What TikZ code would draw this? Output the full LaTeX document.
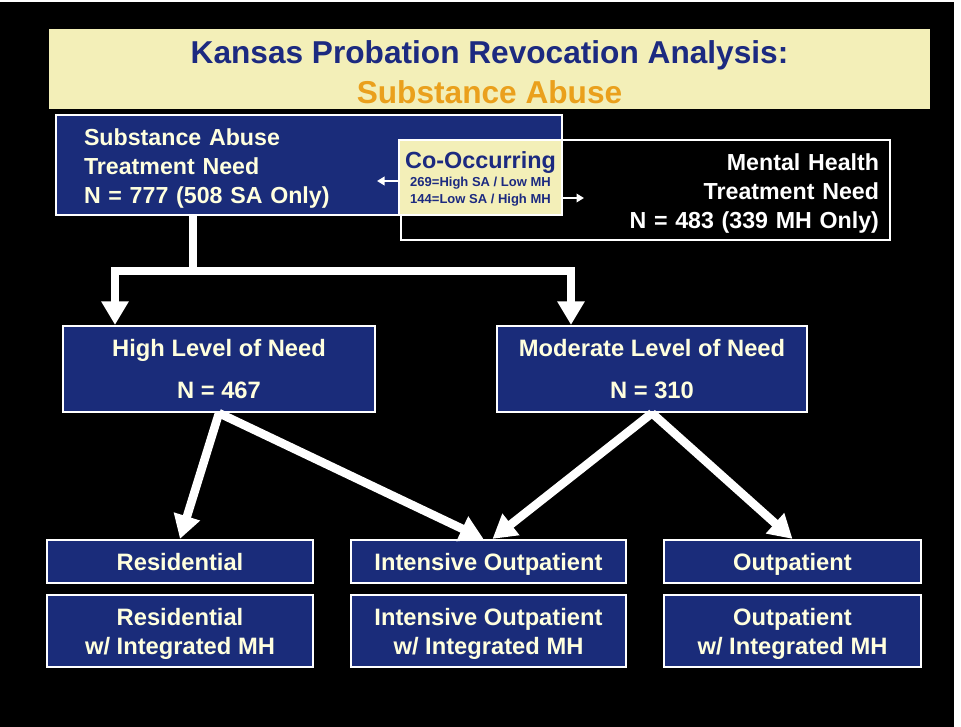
\documentclass[tikz,border=0pt]{standalone}
\usepackage{fontspec}
\setmainfont{Liberation Sans}
\usetikzlibrary{arrows.meta}

\definecolor{navy}{RGB}{26,44,122}
\definecolor{titlenavy}{RGB}{28,42,128}
\definecolor{titleorange}{RGB}{234,160,28}
\definecolor{paleyellow}{RGB}{243,239,184}
\definecolor{cream}{RGB}{255,255,222}

\newcommand{\pxl}{*0.2mm}
\newcommand{\bxfont}{\bfseries\fontsize{13.5}{16.4}\selectfont}
\newcommand{\needfont}{\bfseries\fontsize{13.2}{16.6}\selectfont}
\newcommand{\ttlfont}{\bfseries\fontsize{18}{22.6}\selectfont}
\newcommand{\cofont}{\bfseries\fontsize{13.3}{16}\selectfont}
\newcommand{\smfont}{\bfseries\fontsize{7.4}{9.6}\selectfont}

\begin{document}
\begin{tikzpicture}[x=0.2mm, y=-0.2mm,
  needbox/.style={draw=white, line width=0.45mm, inner sep=0pt, font=\needfont},
  navybox/.style={draw=white, line width=0.45mm, fill=navy, text=cream, inner sep=0pt, align=center, font=\bxfont, text depth=0pt},
  cobox/.style={draw=white, line width=0.3mm, fill=paleyellow, inner sep=0pt},
  banner/.style={fill=paleyellow, text=titlenavy, inner sep=0pt, align=center, font=\ttlfont},
  flow/.style={draw=white, line width=1.7mm, -{Triangle[length=4.7mm, width=5.2mm]}},
  pointer/.style={draw=white, line width=0.4mm, -{Triangle[length=1.5mm, width=1.7mm]}}]

% background
\useasboundingbox (0,0) rectangle (961,727);
\fill[white] (0,0) rectangle (961,727);
\fill[black] (0,2) rectangle (954,727);

% title banner
\node[banner, minimum width=881\pxl, minimum height=80\pxl] (title) at (489.5,69) {\rule{0pt}{16.8pt}Kansas Probation Revocation Analysis:\\\textcolor{titleorange}{Substance Abuse}};

% treatment need: SA box, MH box, co-occurring box on top
\node[needbox, fill=navy, text=cream, minimum width=506\pxl, minimum height=100\pxl, text width=450\pxl, align=left] (sa) at (309,165) {\rule{0pt}{13.8pt}Substance Abuse\\Treatment Need\\N = 777 (508 SA Only)};
\node[needbox, fill=black, text=white, minimum width=489\pxl, minimum height=100\pxl, text width=467\pxl, align=right] (mh) at (645.5,190) {\rule{0pt}{13.4pt}Mental Health\\Treatment Need\\N = 483 (339 MH Only)};
\node[cobox, minimum width=163\pxl, minimum height=75\pxl] (co) at (480.5,177.5) {};
\node[font=\cofont, text=titlenavy, inner sep=0pt] (cotitle) at (480.5,163) {Co-Occurring};
\node[font=\smfont, text=titlenavy, inner sep=0pt, align=center] (conum) at (480.5,192) {269=High SA / Low MH\\144=Low SA / High MH};

% co-occurring counts point into both boxes
\coordinate (saIn) at (377,181);
\coordinate (mhIn) at (584,198);
\draw[pointer] (co.west |- saIn) -- (saIn);
\draw[pointer] (co.east |- mhIn) -- (mhIn);

% level of need
\node[navybox, minimum width=312\pxl, minimum height=86\pxl] (high) at (219,369) {High Level of Need\\[7.4pt]N = 467};
\node[navybox, minimum width=310\pxl, minimum height=86\pxl] (mod) at (652,369) {Moderate Level of Need\\[7.4pt]N = 310};

% split SA box into the two levels
\coordinate (split) at (193,271);
\coordinate (hidrop) at (115,271);
\coordinate (moddrop) at (571,271);
\draw[flow] (sa.south -| split) -- (split) -- (hidrop) -- (hidrop |- high.north);
\draw[flow] (sa.south -| split) -- (split) -- (moddrop) -- (moddrop |- mod.north);

% treatment options
\node[navybox, minimum width=266\pxl, minimum height=43\pxl] (res) at (180,561.5) {Residential};
\node[navybox, minimum width=275\pxl, minimum height=43\pxl] (int) at (488.5,561.5) {Intensive Outpatient};
\node[navybox, minimum width=257\pxl, minimum height=43\pxl] (out) at (792.5,561.5) {Outpatient};

% options with integrated MH
\node[navybox, minimum width=266\pxl, minimum height=72\pxl] (resmh) at (180,631) {Residential\\w/ Integrated MH};
\node[navybox, minimum width=275\pxl, minimum height=72\pxl] (intmh) at (488.5,631) {Intensive Outpatient\\w/ Integrated MH};
\node[navybox, minimum width=257\pxl, minimum height=72\pxl] (outmh) at (792.5,631) {Outpatient\\w/ Integrated MH};

% levels to options
\draw[flow] (high.south) -- (res.north);
\draw[flow] (high.south) -- ([xshift=-5\pxl]int.north);
\draw[flow] (mod.south) -- ([xshift=4\pxl]int.north);
\draw[flow] (mod.south) -- (out.north);

\end{tikzpicture}
\end{document}
